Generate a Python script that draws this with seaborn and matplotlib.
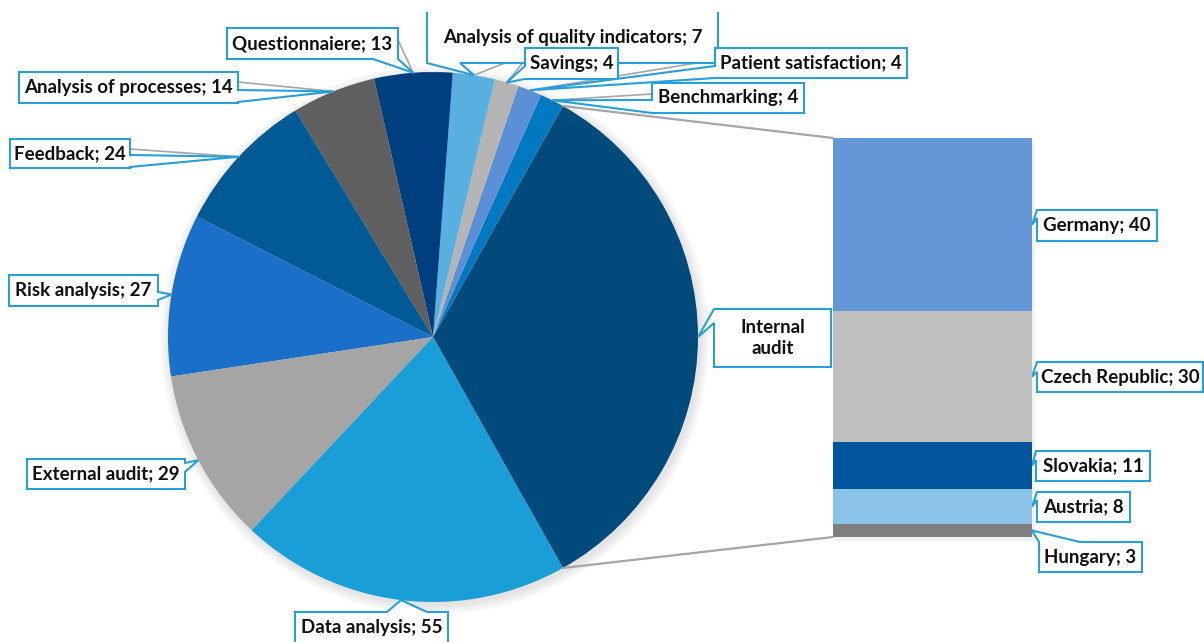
import matplotlib
matplotlib.use("Agg")
import numpy as np
import matplotlib.pyplot as plt
from matplotlib.patches import Polygon, Circle, Rectangle
import seaborn as sns

# ---- data -------------------------------------------------------------
countries = ["Germany", "Czech Republic", "Slovakia", "Austria", "Hungary"]
country_counts = [40, 30, 11, 8, 3]
country_colors = ["#6497d8", "#bfbfbf", "#00569e", "#8ac5e9", "#7f7f7f"]

methods = ["Internal audit", "Benchmarking", "Patient satisfaction", "Savings",
           "Analysis of quality indicators", "Questionnaiere", "Analysis of processes",
           "Feedback", "Risk analysis", "External audit", "Data analysis"]
method_counts = [sum(country_counts), 4, 4, 4, 7, 13, 14, 24, 27, 29, 55]
method_colors = ["#004a7c", "#0079c1", "#5b8fd6", "#b4b4b4", "#58b0e0", "#003f7f",
                 "#5f5f5f", "#005a96", "#1a6fc8", "#a5a5a5", "#1a9ed8"]

sns.set_theme(style="white")
plt.rcParams["font.family"] = ["Lato", "DejaVu Sans"]

W, H = 1204, 642
TOP = 12
fig = plt.figure(figsize=(W / 100, H / 100), dpi=100)
fig.patch.set_facecolor("white")
ax = fig.add_axes([0, 0, 1, (H - TOP) / H])


def P(x, y):
    """pixel position (origin top-left) -> data coords of the main axes"""
    return (x, H - y)


# ---- pie ---------------------------------------------------------------
cx, cy, R = 433, 337, 265
total = sum(method_counts)
start = -180.0 * method_counts[0] / total

# soft drop shadow under the pie
for k in range(1, 10):
    ax.add_patch(Circle(P(cx + 2, cy + 3), R + k * 1.1, color="black",
                        alpha=0.012, lw=0, zorder=0))

wedges, _ = ax.pie(method_counts, colors=method_colors, startangle=start,
                   counterclock=True, center=P(cx, cy), radius=R,
                   wedgeprops=dict(linewidth=0))
ax.set_xlim(0, W)
ax.set_ylim(0, H - TOP)
ax.set_aspect("auto")
ax.axis("off")


def wedge_point(w, ang=None):
    if ang is None:
        ang = 0.5 * (w.theta1 + w.theta2)
    a = np.deg2rad(ang)
    return (cx + R * np.cos(a), cy - R * np.sin(a))


targets = {m: wedge_point(w) for m, w in zip(methods, wedges)}

# ---- stacked bar ------------------------------------------------------
bx0, by0, bw, bh = 833, 138, 199, 399
bax = fig.add_axes([bx0 / W, (H - by0 - bh) / H, bw / W, bh / H])
fig.add_artist(Rectangle(((bx0 + 3) / W, (H - by0 - bh - 4) / H), bw / W, bh / H,
                         transform=fig.transFigure, color="black", alpha=0.05,
                         lw=0, zorder=0))
bottoms = np.cumsum([0] + country_counts[::-1][:-1])[::-1]
bar_total = sum(country_counts)
for name, val, bot, col in zip(countries, country_counts, bottoms, country_colors):
    bax.bar(0, val, bottom=bot, width=1.0, color=col, linewidth=0)
bax.set_xlim(-0.5, 0.5)
bax.set_ylim(0, bar_total)
bax.axis("off")


def bar_pixel(xv, yv):
    dx, dy = bax.transData.transform((xv, yv))
    return (dx, H - dy)


for name, val, bot in zip(countries, country_counts, bottoms):
    targets[name] = bar_pixel(0.5, bot + val / 2)

# connector lines between the pie and the bar
iw = wedges[0]
for ang, corner in ((iw.theta2, bar_pixel(-0.5, bar_total)), (iw.theta1, bar_pixel(-0.5, 0))):
    px, py = wedge_point(iw, ang)
    ax.plot([px, corner[0]], [H - py, H - corner[1]], color="#a6a6a6", lw=1.6,
            solid_capstyle="round", zorder=3)

# ---- callout labels ---------------------------------------------------
BORDER = "#27a0da"
callouts = [
    # text, target, box (x0, y0, x1, y1), notch side, notch span, grey leader start, text y
    ("Questionnaiere; 13", "Questionnaiere", (227, 28, 398, 59), "bottom", (373, 398), (398, 40), None),
    ("Analysis of quality indicators; 7", "Analysis of quality indicators", (427, -5, 718, 63), "bottom", (427, 460), (505, 63), 38),
    ("Savings; 4", "Savings", (525, 48, 618, 79), "left", (66, 79), (525, 60), None),
    ("Patient satisfaction; 4", "Patient satisfaction", (715, 48, 907, 78), "left", (66, 78), (715, 60), None),
    ("Benchmarking; 4", "Benchmarking", (652, 83, 804, 113), "left", (100, 113), (652, 94), None),
    ("Analysis of processes; 14", "Analysis of processes", (19, 72, 238, 103), "right", (90, 102), (238, 82), None),
    ("Feedback; 24", "Feedback", (10, 139, 130, 168), "right", (155, 167), (130, 149), None),
    ("Risk analysis; 27", "Risk analysis", (9, 275, 158, 306), "right", (292, 300), None, None),
    ("External audit; 29", "External audit", (27, 459, 185, 489), "right", (463, 472), None, None),
    ("Data analysis; 55", "Data analysis", (295, 612, 448, 660), "top", (387, 427), None, 628),
    ("Internal\naudit", "Internal audit", (714, 309, 831, 367), "left", (309, 323), None, None),
    ("Germany; 40", "Germany", (1037, 210, 1157, 241), "left", (210, 218), None, None),
    ("Czech Republic; 30", "Czech Republic", (1037, 362, 1203, 392), "left", (362, 372), None, None),
    ("Slovakia; 11", "Slovakia", (1036, 451, 1150, 481), "left", (451, 460), None, None),
    ("Austria; 8", "Austria", (1037, 492, 1130, 522), "left", (492, 500), None, None),
    ("Hungary; 3", "Hungary", (1039, 542, 1142, 572), "top", (1039, 1080), (1042, 545), None),
]


def callout_outline(box, side, span, tgt):
    x0, y0, x1, y1 = box
    a, b = span
    tx, ty = tgt
    if side == "top":
        pts = [(x0, y0), (a, y0), (tx, ty), (b, y0), (x1, y0), (x1, y1), (x0, y1)]
    elif side == "right":
        pts = [(x0, y0), (x1, y0), (x1, a), (tx, ty), (x1, b), (x1, y1), (x0, y1)]
    elif side == "bottom":
        pts = [(x0, y0), (x1, y0), (x1, y1), (b, y1), (tx, ty), (a, y1), (x0, y1)]
    else:
        pts = [(x0, y0), (x1, y0), (x1, y1), (x0, y1), (x0, b), (tx, ty), (x0, a)]
    return [P(x, y) for x, y in pts]


for text, key, box, side, span, lead, ty_text in callouts:
    tx, ty = targets[key]
    if lead is not None:
        ax.plot([lead[0], tx], [H - lead[1], H - ty], color="#a6a6a6", lw=1.2, zorder=4)
    ax.add_patch(Polygon(callout_outline(box, side, span, (tx, ty)), closed=True,
                         facecolor="white", edgecolor=BORDER, lw=1.5, zorder=5,
                         joinstyle="miter"))
    x0, y0, x1, y1 = box
    yc = ty_text if ty_text is not None else 0.5 * (y0 + y1)
    ax.text(0.5 * (x0 + x1), H - yc, text, ha="center", va="center",
            fontsize=13.5, fontweight="bold", color="#111111", zorder=6,
            linespacing=1.35)

fig.savefig("out.png", dpi=100, facecolor="white")
